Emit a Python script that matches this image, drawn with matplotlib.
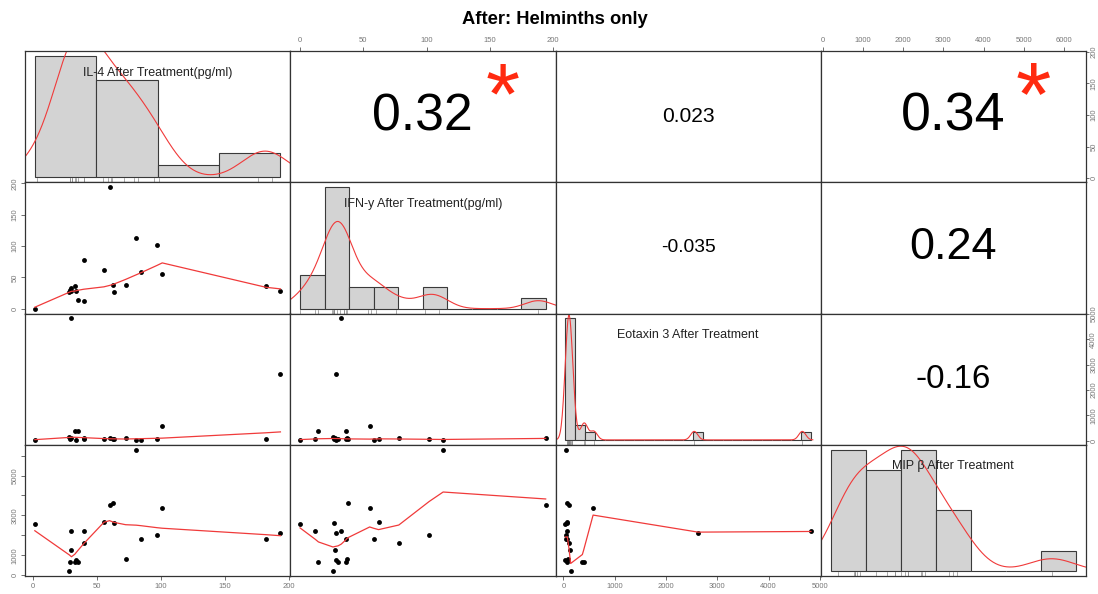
import numpy as np
import matplotlib
matplotlib.use("Agg")
import matplotlib.pyplot as plt
from matplotlib.textpath import TextPath
from matplotlib.font_manager import FontProperties
from matplotlib.path import Path
from matplotlib.transforms import offset_copy

plt.rcParams['font.family'] = ['Liberation Sans', 'DejaVu Sans']

# cytokine levels after treatment, one entry per participant
il4 = [1.6, 28.4, 28.9, 30.2, 30.2, 32.8, 33.6, 35.4, 39.8, 39.8, 55.5,
       59.9, 62.2, 63.0, 72.4, 80.7, 84.1, 96.9, 101.0, 181.8, 193.2]
ifn = [0, 26, 30, 32.5, 27.7, 36, 28, 14.5, 12, 78, 62,
       194, 38, 27, 37, 113, 58, 102, 55, 36, 28]
eot = [40, 143, 65, 4824, 130, 397, 39, 371, 65, 111, 78,
       104, 65, 65, 98, 46, 46, 60, 580, 75, 2624]
mip = [2583, 200, 683, 2200, 1283, 667, 750, 683, 2200, 1600, 2683,
       3500, 3600, 2617, 833, 6300, 1833, 2000, 3367, 1833, 2133]

names = ["IL-4 After Treatment(pg/ml)", "IFN-y After Treatment(pg/ml)",
         "Eotaxin 3 After Treatment", "MIP \u03b2 After Treatment"]
# histogram break spacing per variable (breaks start at 0)
bin_step = [50, 20, 200, 1000]
bw_adjust = [1, 1, 2.5, 1]

# correlation labels for the upper panels (row, col)
cor_cells = [(0, 1), (0, 2), (0, 3), (1, 2), (1, 3), (2, 3)]
cor_labels = ["0.32", "0.023", "0.34", "-0.035", "0.24", "-0.16"]
cor_stars = ["*", "", "*", "", "", ""]

# axis ticks per variable
tick_sets = [[0, 50, 100, 150, 200],
             [0, 50, 100, 150, 200],
             [0, 1000, 2000, 3000, 4000, 5000],
             [0, 1000, 2000, 3000, 4000, 5000, 6000]]

data = [il4, ifn, eot, mip]


def lowess(x, y, f=2/3, iters=3):
    # same steps as R's lowess (clowess)
    x = np.asarray(x, float)
    y = np.asarray(y, float)
    o = np.argsort(x, kind='stable')
    x, y = x[o], y[o]
    n = len(x)
    ns = max(min(int(f * n + 1e-7), n), 2)
    delta = 0.01 * (x[-1] - x[0])
    rng = x[-1] - x[0]
    rw = np.ones(n)
    ys = np.zeros(n)

    def fit_at(i):
        d = np.abs(x - x[i])
        h = np.sort(d)[ns - 1]
        w = np.zeros(n)
        if h > 0:
            r = d / h
            w = np.where(r <= 0.999, (1 - r ** 3) ** 3, 0.0)
            w[r <= 0.001] = 1.0
        else:
            w[d == 0] = 1.0
        w = w * rw
        if w.sum() <= 0:
            return y[i]
        w = w / w.sum()
        a = (w * x).sum()
        c = (w * (x - a) ** 2).sum()
        if h > 0 and np.sqrt(c) > 0.001 * rng:
            b = (x[i] - a) / c
            w = w * (b * (x - a) + 1)
        return (w * y).sum()

    for it in range(iters + 1):
        i, last = 0, -1
        while True:
            ys[i] = fit_at(i)
            if last < i - 1:
                den = x[i] - x[last]
                for j in range(last + 1, i):
                    al = (x[j] - x[last]) / den
                    ys[j] = al * ys[i] + (1 - al) * ys[last]
            last = i
            cut = x[last] + delta
            i = last + 1
            while i < n:
                if x[i] > cut:
                    break
                if x[i] == x[last]:
                    ys[i] = ys[last]
                    last = i
                i += 1
            i = max(last + 1, i - 1)
            if last >= n - 1:
                break
        if it == iters:
            break
        res = np.abs(y - ys)
        cmad = 6 * np.median(res)
        if cmad < 1e-7 * np.abs(y).mean():
            break
        r = res / cmad
        rw = np.where(r <= 0.999, (1 - r ** 2) ** 2, 0.0)
        rw[r <= 0.001] = 1.0
    return x, ys


def density(v, adjust=1.0):
    v = np.asarray(v, float)
    n = len(v)
    q75, q25 = np.percentile(v, [75, 25])
    lo = min(v.std(ddof=1), (q75 - q25) / 1.34)
    bw = 0.9 * lo * n ** -0.2 * adjust
    g = np.linspace(v.min() - 3 * bw, v.max() + 3 * bw, 512)
    d = np.exp(-0.5 * ((g[:, None] - v[None, :]) / bw) ** 2).sum(1)
    return g, d / (n * bw * np.sqrt(2 * np.pi))


def lims(lo, hi):
    r = hi - lo
    return lo - 0.04 * r, hi + 0.04 * r


fig = plt.figure(figsize=(10.98, 5.94), dpi=100)
fig.text(0.5055, 0.968, "After: Helminths only", ha='center', va='center',
         fontsize=13.2, fontweight='bold')

L, R, T, B = 25 / 1098, 1086 / 1098, 1 - 51 / 594, 1 - 576 / 594
cw = (R - L) / 4
ch = (T - B) / 4
panel_w_px = cw * 1098
renderer = fig.canvas.get_renderer()

# ink box of the asterisk, in em units
fp = FontProperties(family='Liberation Sans')
tp = TextPath((0, 0), "*", size=1, prop=fp)
sv = tp.vertices[tp.codes != Path.CLOSEPOLY]
star_lo, star_hi = sv[:, 1].min(), sv[:, 1].max()

red = '#F03A3A'
frame = '#333333'
k = len(data)

for i in range(k):
    for j in range(k):
        ax = fig.add_axes([L + j * cw, T - (i + 1) * ch, cw, ch])
        for s in ax.spines.values():
            s.set_color(frame)
            s.set_linewidth(0.9)
        ax.set_xticks([])
        ax.set_yticks([])
        xv, yv = data[j], data[i]
        ax.set_xlim(*lims(min(xv), max(xv)))

        if i == j:
            v = np.asarray(data[i], float)
            step = bin_step[i]
            edges = np.arange(0, np.ceil(v.max() / step) * step + step / 2, step)
            # right-closed bins, lowest edge included
            idx = np.clip(np.searchsorted(edges, v, side='left'), 1, len(edges) - 1)
            counts = np.bincount(idx - 1, minlength=len(edges) - 1)
            dens = counts / (len(v) * step)
            ax.bar(edges[:-1], dens, width=step, align='edge', color='#D3D3D3',
                   edgecolor='#3a3a3a', linewidth=0.8)
            ax.set_xlim(*lims(edges[0], edges[-1]))
            g, d = density(v, bw_adjust[i])
            ax.plot(g, d, color=red, lw=0.8)
            m = dens.max()
            ax.set_ylim(-0.04 * m, 1.04 * m)
            for xx in v:
                ax.plot([xx, xx], [-0.04 * m, -0.04 * m + 0.03 * 1.08 * m],
                        color='#888888', lw=0.5)
            ax.text(0.5, 0.835, names[i], transform=ax.transAxes,
                    ha='center', va='center', fontsize=9.0, color='#222222')
        elif i > j:
            ax.set_ylim(*lims(min(yv), max(yv)))
            ax.plot(xv, yv, 'o', color='black', ms=3.5, mec='none')
            sx, sy = lowess(xv, yv)
            ax.plot(sx, sy, color=red, lw=0.9)
        else:
            ax.set_ylim(*lims(min(yv), max(yv)))
            idx = cor_cells.index((i, j))
            txt = cor_labels[idx]
            r = abs(float(txt))
            t = ax.text(0.5, 0.5, txt, transform=ax.transAxes, ha='center',
                        va='center', fontsize=10, color='black')
            w10 = t.get_window_extent(renderer).width
            # text width scales with |r|, as in chart.Correlation
            full = 10 * 0.8 * panel_w_px / w10
            t.set_fontsize(full * (r + 0.3) / 1.3)
            if cor_stars[idx]:
                digit_h = 0.716 * full * (r + 0.3) / 1.3
                star_size = 0.83 * digit_h / (star_hi - star_lo)
                mid = 0.5 * (star_lo + star_hi) * star_size
                tr = offset_copy(ax.transAxes, fig=fig, y=-mid, units='points')
                ax.text(0.8, 0.79, cor_stars[idx], transform=tr, ha='center',
                        va='baseline', fontsize=star_size, color='#FF2A10')

        tk = dict(direction='out', length=2.8, width=0.6, color='#555555',
                  labelcolor='#777777', labelsize=5.5, pad=2.0)
        # outer axes alternate sides like an R pairs plot
        if i == 0 and j % 2 == 1:
            ax.set_xticks(tick_sets[j])
            ax.tick_params(axis='x', top=True, bottom=False, labeltop=True,
                           labelbottom=False, **tk)
        if i == k - 1 and j % 2 == 0:
            ax.set_xticks(tick_sets[j])
            ax.tick_params(axis='x', bottom=True, labelbottom=True, **tk)
        if j == 0 and i % 2 == 1:
            ax.set_yticks(tick_sets[i])
            if i == 3:
                ax.set_yticklabels([str(t) if t in (0, 1000, 3000, 5000) else ''
                                    for t in tick_sets[i]])
            ax.tick_params(axis='y', left=True, labelleft=True,
                           labelrotation=90, **tk)
            for lab in ax.get_yticklabels():
                lab.set_va('center')
        if j == k - 1 and i % 2 == 0:
            ax.set_yticks(tick_sets[i])
            tr_tk = dict(tk, pad=0.8, length=2.3)
            ax.tick_params(axis='y', right=True, left=False, labelright=True,
                           labelleft=False, labelrotation=90, **tr_tk)
            for lab in ax.get_yticklabels():
                lab.set_va('center')
        ax.set_ylim(ax.get_ylim())

fig.savefig("out.png", dpi=100)
